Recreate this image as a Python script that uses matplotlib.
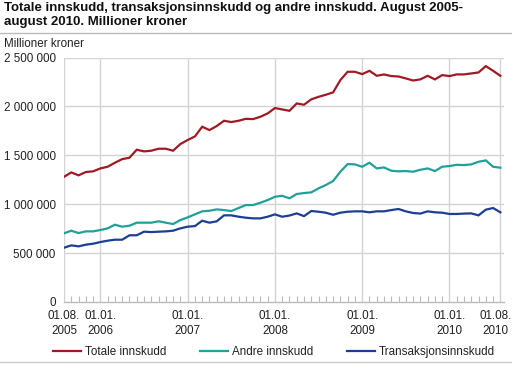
import matplotlib
matplotlib.use("Agg")
import matplotlib.pyplot as plt
from matplotlib.lines import Line2D
from matplotlib.transforms import ScaledTranslation

plt.rcParams['font.family'] = ['Liberation Sans', 'DejaVu Sans']

# Monthly values, Aug 2005 - Aug 2010 (million NOK)
totale = [1280, 1325, 1295, 1329, 1336, 1366, 1383, 1424, 1461, 1475,
          1557, 1540, 1547, 1567, 1567, 1547, 1615, 1656, 1693, 1792,
          1758, 1799, 1853, 1840, 1853, 1873, 1870, 1894, 1928, 1983,
          1969, 1955, 2030, 2017, 2072, 2098, 2119, 2143, 2269, 2354,
          2354, 2330, 2364, 2313, 2327, 2310, 2306, 2286, 2265, 2276,
          2313, 2276, 2320, 2310, 2327, 2327, 2337, 2347, 2412, 2364,
          2313]
andre = [702, 729, 705, 722, 722, 736, 753, 790, 770, 780,
         811, 811, 811, 825, 811, 797, 838, 865, 896, 927,
         933, 947, 940, 930, 961, 991, 991, 1015, 1042, 1076,
         1086, 1060, 1104, 1114, 1121, 1162, 1196, 1237, 1332, 1410,
         1407, 1383, 1424, 1366, 1376, 1342, 1336, 1339, 1332, 1352,
         1366, 1339, 1383, 1390, 1403, 1400, 1407, 1434, 1448, 1383,
         1373]
transaksjon = [555, 579, 569, 586, 596, 613, 627, 637, 637, 682,
               682, 719, 715, 719, 722, 729, 753, 770, 776, 831,
               811, 825, 886, 886, 872, 862, 855, 855, 872, 896,
               872, 884, 906, 878, 930, 923, 913, 892, 913, 923,
               927, 927, 917, 927, 927, 940, 951, 927, 910, 904,
               927, 917, 913, 900, 900, 904, 906, 886, 944, 961,
               917]

series_names = ["Totale innskudd", "Andre innskudd", "Transaksjonsinnskudd"]
colors = ["#a01a24", "#1fa19a", "#1c3f93"]

tick_pos = [0, 5, 17, 29, 41, 53, 60]
tick_labels = ["01.08.\n2005", "01.01.\n2006", "01.01.\n2007", "01.01.\n2008",
               "01.01.\n2009", "01.01.\n2010", "01.08.\n2010"]
y_ticks = [0, 500000, 1000000, 1500000, 2000000, 2500000]
y_labels = ["0", "500 000", "1 000 000", "1 500 000", "2 000 000", "2 500 000"]

W, H = 512, 375
FS = 8.4
fig = plt.figure(figsize=(W / 100, H / 100), dpi=100)

ax_l, ax_r, ax_t, ax_b = 64, 504, 57.5, 302
ax = fig.add_axes([ax_l / W, 1 - ax_b / H, (ax_r - ax_l) / W, (ax_b - ax_t) / H])

months = list(range(len(totale)))
for vals, c, n in zip([totale, andre, transaksjon], colors, series_names):
    ax.plot(months, [v * 1000 for v in vals], color=c, lw=1.6, label=n,
            solid_joinstyle='miter', zorder=3)

ax.set_xlim(0, 60.5)
ax.set_ylim(0, 2500000)
ax.set_yticks(y_ticks)
ax.set_yticklabels(y_labels, fontsize=FS, color='#222222')
ax.set_xticks(tick_pos)
ax.set_xticklabels(tick_labels, fontsize=FS, color='#222222', linespacing=1.35)
ax.set_xticks(months, minor=True)
ax.tick_params(axis='x', which='minor', direction='in', length=4, color='#bbbbbb', width=0.8)
ax.tick_params(axis='x', which='major', direction='in', length=0, pad=6)
ax.tick_params(axis='y', length=0, pad=6)

last = ax.get_xticklabels()[-1]
last.set_transform(last.get_transform() + ScaledTranslation(-5 / 100, 0, fig.dpi_scale_trans))

for yv in y_ticks[1:]:
    ax.axhline(yv, color='#d4d4d4', lw=1, zorder=1)
for xv in tick_pos:
    ax.axvline(xv, color='#d4d4d4', lw=1, zorder=1)

for s in ['top', 'right', 'left']:
    ax.spines[s].set_visible(False)
ax.spines['bottom'].set_color('#bbbbbb')
ax.spines['bottom'].set_linewidth(1)

fig.text(4 / W, 1 - 2 / H,
         "Totale innskudd, transaksjonsinnskudd og andre innskudd. August 2005-\naugust 2010. Millioner kroner",
         fontsize=9.5, fontweight='bold', ha='left', va='top', linespacing=1.2, color='#111111')
fig.add_artist(Line2D([0, 1], [1 - 32.5 / H, 1 - 32.5 / H], color='#bbbbbb', lw=1, transform=fig.transFigure))
fig.text(4 / W, 1 - 44 / H, "Millioner kroner", fontsize=FS, ha='left', va='center', color='#222222')

handles, labels = ax.get_legend_handles_labels()
leg = fig.legend(handles, labels, loc='center', bbox_to_anchor=(0.535, 1 - 352 / H), ncol=3,
                 frameon=False, fontsize=FS, handlelength=2.4, handletextpad=0.35,
                 columnspacing=2.9)
for t in leg.get_texts():
    t.set_color('#222222')
fig.add_artist(Line2D([0, 1], [1 - 361.5 / H, 1 - 361.5 / H], color='#cccccc', lw=1, transform=fig.transFigure))

fig.savefig("out.png", dpi=100)
